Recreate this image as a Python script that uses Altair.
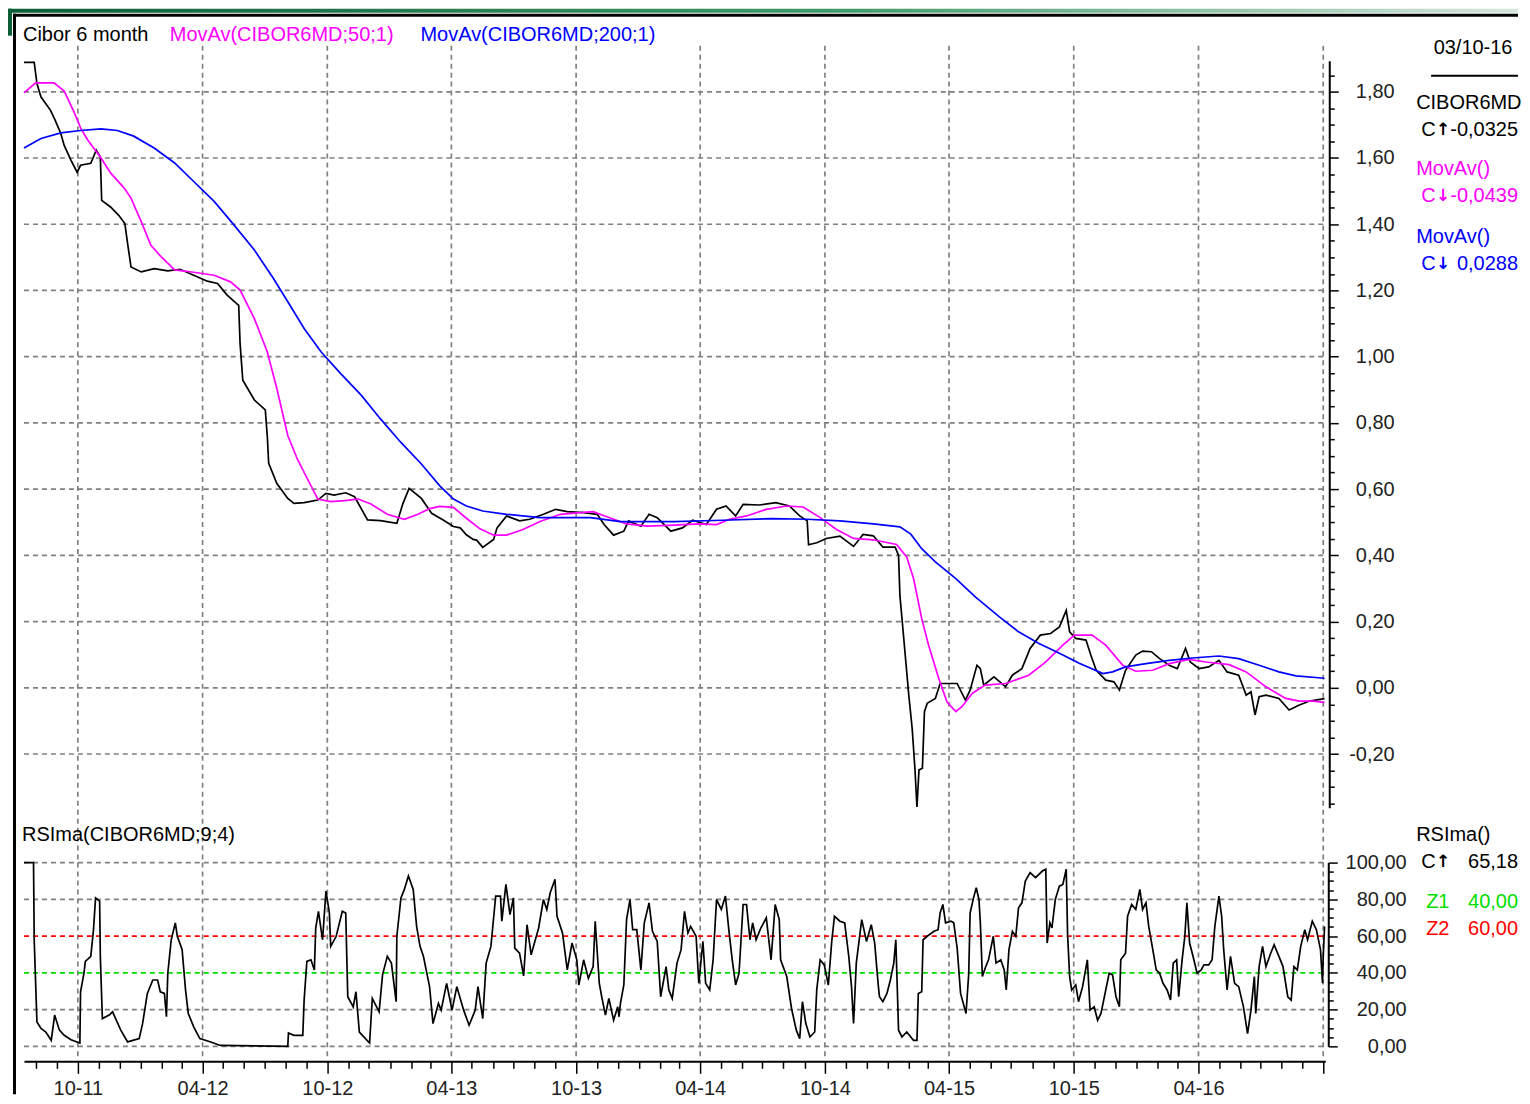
import altair as alt
import pandas as pd

# ---------------- data ----------------
cibor = [
    ("2011-07-14", 1.889), ("2011-07-29", 1.889), ("2011-08-02", 1.825), ("2011-08-08", 1.784),
    ("2011-08-22", 1.744), ("2011-08-29", 1.713), ("2011-09-06", 1.674), ("2011-09-11", 1.638),
    ("2011-09-21", 1.593), ("2011-09-30", 1.557), ("2011-10-05", 1.578), ("2011-10-20", 1.584),
    ("2011-10-28", 1.624), ("2011-11-03", 1.603), ("2011-11-05", 1.472), ("2011-11-18", 1.452),
    ("2011-11-30", 1.427), ("2011-12-09", 1.402), ("2011-12-13", 1.342), ("2011-12-18", 1.271),
    ("2012-01-02", 1.256), ("2012-01-21", 1.266), ("2012-02-10", 1.259), ("2012-02-28", 1.264),
    ("2012-03-19", 1.246), ("2012-04-08", 1.228), ("2012-04-23", 1.221), ("2012-05-07", 1.186),
    ("2012-05-24", 1.155), ("2012-05-26", 1.040), ("2012-05-30", 0.929), ("2012-06-16", 0.869),
    ("2012-07-02", 0.839), ("2012-07-05", 0.758), ("2012-07-07", 0.678), ("2012-07-19", 0.617),
    ("2012-08-04", 0.572), ("2012-08-13", 0.557), ("2012-08-28", 0.559), ("2012-09-17", 0.567),
    ("2012-09-29", 0.587), ("2012-10-11", 0.582), ("2012-10-28", 0.589), ("2012-11-10", 0.577),
    ("2012-11-29", 0.507), ("2012-12-18", 0.505), ("2013-01-11", 0.497), ("2013-01-20", 0.557),
    ("2013-01-29", 0.602), ("2013-02-16", 0.572), ("2013-03-03", 0.527), ("2013-03-20", 0.507),
    ("2013-04-04", 0.487), ("2013-04-14", 0.483), ("2013-04-23", 0.462), ("2013-05-03", 0.448),
    ("2013-05-08", 0.446), ("2013-05-17", 0.424), ("2013-06-02", 0.448), ("2013-06-07", 0.483),
    ("2013-06-21", 0.519), ("2013-07-10", 0.504), ("2013-07-25", 0.509), ("2013-08-14", 0.524),
    ("2013-09-01", 0.539), ("2013-09-18", 0.532), ("2013-10-12", 0.529), ("2013-11-01", 0.524),
    ("2013-11-11", 0.493), ("2013-11-25", 0.461), ("2013-12-10", 0.473), ("2013-12-17", 0.504),
    ("2014-01-04", 0.488), ("2014-01-16", 0.524), ("2014-01-28", 0.514), ("2014-02-17", 0.473),
    ("2014-03-06", 0.483), ("2014-03-21", 0.506), ("2014-04-10", 0.493), ("2014-04-25", 0.539),
    ("2014-05-09", 0.549), ("2014-05-23", 0.519), ("2014-06-03", 0.554), ("2014-06-27", 0.552),
    ("2014-07-21", 0.559), ("2014-08-10", 0.549), ("2014-08-25", 0.519), ("2014-09-05", 0.504),
    ("2014-09-07", 0.432), ("2014-09-19", 0.438), ("2014-10-03", 0.451), ("2014-10-23", 0.458),
    ("2014-11-12", 0.427), ("2014-11-26", 0.463), ("2014-12-11", 0.459), ("2014-12-25", 0.425),
    ("2015-01-12", 0.425), ("2015-01-17", 0.400), ("2015-01-19", 0.279), ("2015-01-24", 0.164),
    ("2015-02-01", -0.022), ("2015-02-06", -0.123), ("2015-02-10", -0.243), ("2015-02-13", -0.360),
    ("2015-02-16", -0.248), ("2015-02-21", -0.243), ("2015-02-24", -0.072), ("2015-02-28", -0.047),
    ("2015-03-12", -0.032), ("2015-03-19", 0.013), ("2015-04-01", 0.013), ("2015-04-13", 0.013),
    ("2015-04-25", -0.037), ("2015-05-02", -0.007), ("2015-05-12", 0.068), ("2015-05-17", 0.058),
    ("2015-05-22", 0.008), ("2015-06-06", 0.033), ("2015-06-23", 0.003), ("2015-07-03", 0.038),
    ("2015-07-17", 0.058), ("2015-07-29", 0.119), ("2015-08-13", 0.159), ("2015-08-28", 0.164),
    ("2015-09-10", 0.184), ("2015-09-20", 0.234), ("2015-09-25", 0.169), ("2015-10-04", 0.149),
    ("2015-10-19", 0.144), ("2015-10-26", 0.099), ("2015-11-03", 0.053), ("2015-11-17", 0.023),
    ("2015-11-29", 0.018), ("2015-12-07", -0.007), ("2015-12-16", 0.053), ("2015-12-31", 0.099),
    ("2016-01-10", 0.111), ("2016-01-23", 0.109), ("2016-02-04", 0.088), ("2016-02-18", 0.068),
    ("2016-03-01", 0.058), ("2016-03-13", 0.119), ("2016-03-20", 0.078), ("2016-04-02", 0.058),
    ("2016-04-16", 0.063), ("2016-05-01", 0.083), ("2016-05-13", 0.048), ("2016-05-30", 0.038),
    ("2016-06-10", -0.022), ("2016-06-17", -0.012), ("2016-06-23", -0.082), ("2016-06-29", -0.027),
    ("2016-07-09", -0.022), ("2016-07-28", -0.032), ("2016-08-12", -0.067), ("2016-08-27", -0.052),
    ("2016-09-11", -0.040), ("2016-10-03", -0.0325),
]

movav50 = [
    ("2011-07-14", 1.797), ("2011-07-31", 1.827), ("2011-08-27", 1.827), ("2011-09-11", 1.802),
    ("2011-09-25", 1.741), ("2011-10-05", 1.691), ("2011-10-15", 1.656), ("2011-11-04", 1.600),
    ("2011-11-18", 1.555), ("2011-12-08", 1.509), ("2011-12-18", 1.479), ("2012-01-02", 1.408),
    ("2012-01-16", 1.337), ("2012-01-31", 1.302), ("2012-02-20", 1.262), ("2012-03-19", 1.255),
    ("2012-04-18", 1.246), ("2012-05-12", 1.226), ("2012-05-26", 1.201), ("2012-06-16", 1.115),
    ("2012-07-05", 1.014), ("2012-07-19", 0.903), ("2012-08-04", 0.762), ("2012-08-18", 0.691),
    ("2012-09-02", 0.630), ("2012-09-17", 0.570), ("2012-10-06", 0.562), ("2012-10-26", 0.565),
    ("2012-11-15", 0.570), ("2012-12-04", 0.555), ("2012-12-28", 0.524), ("2013-01-22", 0.509),
    ("2013-02-11", 0.524), ("2013-02-28", 0.541), ("2013-03-15", 0.548), ("2013-04-04", 0.545),
    ("2013-04-23", 0.512), ("2013-05-13", 0.480), ("2013-06-02", 0.461), ("2013-06-21", 0.461),
    ("2013-07-15", 0.478), ("2013-08-09", 0.502), ("2013-09-08", 0.524), ("2013-10-07", 0.529),
    ("2013-10-26", 0.532), ("2013-11-16", 0.516), ("2013-12-14", 0.495), ("2014-01-13", 0.488),
    ("2014-02-22", 0.491), ("2014-03-30", 0.495), ("2014-04-25", 0.493), ("2014-05-14", 0.509),
    ("2014-06-08", 0.519), ("2014-07-07", 0.539), ("2014-08-06", 0.549), ("2014-08-30", 0.546),
    ("2014-09-24", 0.514), ("2014-10-18", 0.478), ("2014-11-12", 0.451), ("2014-12-11", 0.447),
    ("2015-01-14", 0.433), ("2015-01-29", 0.395), ("2015-02-08", 0.330), ("2015-02-20", 0.209),
    ("2015-03-02", 0.129), ("2015-03-17", 0.028), ("2015-03-29", -0.042), ("2015-04-11", -0.072),
    ("2015-04-20", -0.057), ("2015-05-05", -0.017), ("2015-05-24", 0.008), ("2015-06-23", 0.013),
    ("2015-07-27", 0.038), ("2015-08-21", 0.078), ("2015-09-15", 0.129), ("2015-10-02", 0.159),
    ("2015-10-28", 0.159), ("2015-11-17", 0.129), ("2015-12-12", 0.068), ("2015-12-31", 0.050),
    ("2016-01-25", 0.053), ("2016-02-18", 0.073), ("2016-03-18", 0.086), ("2016-04-12", 0.078),
    ("2016-05-16", 0.070), ("2016-06-10", 0.048), ("2016-07-09", 0.003), ("2016-08-07", -0.032),
    ("2016-08-27", -0.040), ("2016-09-16", -0.040), ("2016-10-03", -0.0439),
]

movav200 = [
    ("2011-07-14", 1.630), ("2011-08-08", 1.659), ("2011-09-06", 1.676), ("2011-10-05", 1.683),
    ("2011-11-04", 1.688), ("2011-11-28", 1.683), ("2011-12-22", 1.666), ("2012-01-21", 1.630),
    ("2012-02-20", 1.585), ("2012-03-19", 1.529), ("2012-04-18", 1.469), ("2012-05-17", 1.398),
    ("2012-06-16", 1.322), ("2012-07-14", 1.236), ("2012-08-04", 1.166), ("2012-08-28", 1.085),
    ("2012-09-22", 1.014), ("2012-10-21", 0.948), ("2012-11-20", 0.883), ("2012-12-18", 0.812),
    ("2013-01-17", 0.741), ("2013-02-16", 0.676), ("2013-03-15", 0.610), ("2013-04-04", 0.570),
    ("2013-04-23", 0.549), ("2013-05-17", 0.534), ("2013-06-21", 0.524), ("2013-08-09", 0.514),
    ("2013-09-27", 0.514), ("2013-10-22", 0.514), ("2013-12-05", 0.502), ("2014-02-22", 0.502),
    ("2014-05-04", 0.506), ("2014-07-16", 0.511), ("2014-09-05", 0.509), ("2014-10-23", 0.504),
    ("2014-12-11", 0.495), ("2015-01-19", 0.486), ("2015-02-04", 0.464), ("2015-02-20", 0.420),
    ("2015-03-12", 0.380), ("2015-04-11", 0.330), ("2015-05-10", 0.274), ("2015-06-14", 0.214),
    ("2015-07-12", 0.169), ("2015-08-11", 0.134), ("2015-09-10", 0.104), ("2015-10-09", 0.074),
    ("2015-11-13", 0.043), ("2015-11-27", 0.048), ("2015-12-16", 0.063), ("2016-01-15", 0.073),
    ("2016-02-18", 0.083), ("2016-03-23", 0.090), ("2016-05-01", 0.096), ("2016-05-30", 0.088),
    ("2016-06-29", 0.068), ("2016-07-28", 0.048), ("2016-08-22", 0.036), ("2016-10-03", 0.0288),
]

rsima = [
    ("2011-07-14", 100), ("2011-07-28", 100), ("2011-07-29", 58), ("2011-08-02", 13.3), ("2011-08-08", 9.7),
    ("2011-08-15", 7.8), ("2011-08-23", 3.3), ("2011-08-28", 17), ("2011-09-04", 8.8), ("2011-09-11", 6),
    ("2011-09-21", 3.6), ("2011-10-04", 1.8), ("2011-10-05", 29.7), ("2011-10-10", 39.8), ("2011-10-12", 46.2),
    ("2011-10-20", 49), ("2011-10-24", 63.5), ("2011-10-27", 80.8), ("2011-11-02", 79), ("2011-11-03", 49),
    ("2011-11-06", 15.1), ("2011-11-16", 17), ("2011-11-21", 18.8), ("2011-12-03", 8.8), ("2011-12-13", 2.4),
    ("2011-12-30", 4.2), ("2012-01-04", 12.4), ("2012-01-11", 28.8), ("2012-01-19", 36.1), ("2012-01-26", 36.1),
    ("2012-01-30", 29.7), ("2012-02-05", 28.8), ("2012-02-08", 16.1), ("2012-02-10", 39.8), ("2012-02-15", 58),
    ("2012-02-21", 67.2), ("2012-02-24", 59.9), ("2012-03-02", 52.6), ("2012-03-07", 30.7), ("2012-03-11", 17.9),
    ("2012-03-19", 10.6), ("2012-03-28", 4.2), ("2012-04-13", 2.4), ("2012-04-27", 0.5), ("2012-08-04", 0),
    ("2012-08-05", 7.3), ("2012-08-13", 6), ("2012-08-26", 6), ("2012-08-28", 25.2), ("2012-09-01", 46.2),
    ("2012-09-07", 47.1), ("2012-09-12", 41.6), ("2012-09-14", 64.4), ("2012-09-18", 73.5), ("2012-09-24", 58),
    ("2012-09-29", 84.5), ("2012-10-04", 72.6), ("2012-10-06", 54.4), ("2012-10-14", 59.9), ("2012-10-23", 73.5),
    ("2012-10-28", 72.6), ("2012-10-31", 27), ("2012-11-08", 21.5), ("2012-11-12", 29.7), ("2012-11-17", 7.8),
    ("2012-12-02", 1.8), ("2012-12-06", 26.1), ("2012-12-16", 18.8), ("2012-12-21", 38.9), ("2012-12-28", 49),
    ("2013-01-03", 45.3), ("2013-01-10", 24.3), ("2013-01-11", 59.9), ("2013-01-17", 80.8), ("2013-01-22", 85.4),
    ("2013-01-28", 92.7), ("2013-02-04", 85.4), ("2013-02-09", 65.3), ("2013-02-14", 54.4), ("2013-02-19", 49),
    ("2013-02-23", 41.6), ("2013-02-28", 32.5), ("2013-03-05", 12.4), ("2013-03-13", 23.4), ("2013-03-17", 19.7),
    ("2013-03-25", 34.3), ("2013-04-02", 19.7), ("2013-04-09", 32.5), ("2013-04-19", 19.7), ("2013-04-27", 11.5),
    ("2013-05-06", 19.7), ("2013-05-10", 32.5), ("2013-05-17", 15.1), ("2013-05-22", 45.3), ("2013-05-29", 54.4),
    ("2013-06-05", 81.8), ("2013-06-12", 81.8), ("2013-06-14", 68.1), ("2013-06-20", 88.1), ("2013-06-26", 71.7),
    ("2013-07-01", 80.8), ("2013-07-03", 53.5), ("2013-07-10", 50.7), ("2013-07-16", 38.3), ("2013-07-21", 66.2),
    ("2013-07-27", 49.8), ("2013-08-07", 64.4), ("2013-08-14", 79.9), ("2013-08-19", 74.5), ("2013-08-24", 83.6),
    ("2013-08-31", 90.9), ("2013-09-03", 70.8), ("2013-09-11", 61.7), ("2013-09-18", 41.6), ("2013-09-25", 56.2),
    ("2013-10-02", 47.1), ("2013-10-05", 33.4), ("2013-10-12", 47.1), ("2013-10-19", 37), ("2013-10-26", 43.4),
    ("2013-10-29", 68.1), ("2013-11-04", 34.3), ("2013-11-08", 26.1), ("2013-11-13", 17), ("2013-11-18", 26.1),
    ("2013-11-25", 14.2), ("2013-12-01", 21.5), ("2013-12-03", 16.1), ("2013-12-05", 23.4), ("2013-12-10", 33.4),
    ("2013-12-14", 69), ("2013-12-19", 79.9), ("2013-12-23", 63.5), ("2013-12-29", 63.5), ("2014-01-04", 41.6),
    ("2014-01-09", 67.2), ("2014-01-16", 78.1), ("2014-01-21", 62.6), ("2014-01-28", 57.1), ("2014-02-02", 27),
    ("2014-02-10", 43.4), ("2014-02-14", 30.7), ("2014-02-19", 26.1), ("2014-02-26", 45.3), ("2014-03-04", 52.6),
    ("2014-03-09", 73.5), ("2014-03-14", 61.7), ("2014-03-18", 65.3), ("2014-03-26", 59.9), ("2014-03-30", 34.3),
    ("2014-04-05", 57.1), ("2014-04-09", 34.3), ("2014-04-15", 30.7), ("2014-04-20", 47.1), ("2014-04-25", 79.9),
    ("2014-05-02", 74.5), ("2014-05-08", 81.8), ("2014-05-13", 63.5), ("2014-05-18", 47.1), ("2014-05-23", 33.4),
    ("2014-05-28", 39.8), ("2014-06-03", 77.2), ("2014-06-08", 77.2), ("2014-06-13", 58), ("2014-06-17", 67.2),
    ("2014-06-22", 58), ("2014-06-29", 64.4), ("2014-07-07", 69.9), ("2014-07-14", 47.1), ("2014-07-20", 77.2),
    ("2014-07-26", 69), ("2014-07-28", 47.1), ("2014-08-06", 38), ("2014-08-13", 20.6), ("2014-08-20", 8.8),
    ("2014-08-25", 4.2), ("2014-08-29", 24.3), ("2014-09-03", 12.4), ("2014-09-09", 5.1), ("2014-09-16", 7.8),
    ("2014-09-19", 30.7), ("2014-09-24", 47.1), ("2014-09-30", 44.3), ("2014-10-06", 33.4), ("2014-10-11", 57.1),
    ("2014-10-15", 70.8), ("2014-10-23", 68.1), ("2014-10-30", 67.2), ("2014-11-05", 48.9), ("2014-11-09", 32.5),
    ("2014-11-12", 12.4), ("2014-11-16", 45.3), ("2014-11-24", 69), ("2014-12-01", 57.1), ("2014-12-08", 66.2),
    ("2014-12-13", 56.2), ("2014-12-18", 34.3), ("2014-12-20", 27), ("2014-12-25", 24.3), ("2014-12-31", 28.8),
    ("2015-01-05", 36.1), ("2015-01-10", 45.3), ("2015-01-13", 58), ("2015-01-17", 8.8), ("2015-01-22", 5.1),
    ("2015-01-29", 7.8), ("2015-02-08", 3.3), ("2015-02-13", 3.3), ("2015-02-15", 28.8), ("2015-02-20", 29.7),
    ("2015-02-22", 58), ("2015-02-28", 59.9), ("2015-03-10", 62.6), ("2015-03-16", 63.5), ("2015-03-19", 72.6),
    ("2015-03-23", 77.2), ("2015-03-27", 67.2), ("2015-04-04", 68.1), ("2015-04-08", 67.2), ("2015-04-13", 53.5),
    ("2015-04-18", 28.8), ("2015-04-26", 17.9), ("2015-04-30", 39.8), ("2015-05-02", 72.6), ("2015-05-07", 80.8),
    ("2015-05-11", 86.3), ("2015-05-15", 79.9), ("2015-05-17", 67.2), ("2015-05-20", 38), ("2015-05-24", 42.5),
    ("2015-05-29", 47.1), ("2015-06-05", 59.9), ("2015-06-09", 45.3), ("2015-06-16", 47.1), ("2015-06-21", 41.6),
    ("2015-06-24", 30.7), ("2015-06-28", 52.6), ("2015-07-03", 62.6), ("2015-07-08", 59.9), ("2015-07-12", 75.4),
    ("2015-07-17", 78.1), ("2015-07-22", 90), ("2015-07-29", 94.5), ("2015-08-06", 91.8), ("2015-08-16", 95.4),
    ("2015-08-21", 96.4), ("2015-08-23", 56.2), ("2015-08-27", 67.2), ("2015-08-30", 64.4), ("2015-09-04", 79.9),
    ("2015-09-10", 87.2), ("2015-09-15", 88.1), ("2015-09-20", 96.4), ("2015-09-22", 60.8), ("2015-09-25", 38),
    ("2015-09-28", 30.7), ("2015-10-04", 33.4), ("2015-10-08", 24.3), ("2015-10-14", 32.5), ("2015-10-21", 47.1),
    ("2015-10-25", 19.7), ("2015-10-31", 21.5), ("2015-11-05", 14.2), ("2015-11-10", 17.9), ("2015-11-17", 30.7),
    ("2015-11-22", 39.8), ("2015-11-27", 38.9), ("2015-12-02", 27), ("2015-12-07", 21.5), ("2015-12-09", 47.1),
    ("2015-12-16", 50.7), ("2015-12-19", 70.8), ("2015-12-25", 77.2), ("2015-12-31", 74.5), ("2016-01-06", 85.4),
    ("2016-01-10", 74.5), ("2016-01-15", 78.1), ("2016-01-19", 65.3), ("2016-01-25", 52.6), ("2016-01-30", 41.6),
    ("2016-02-04", 39.8), ("2016-02-09", 34.3), ("2016-02-15", 30.7), ("2016-02-20", 25.2), ("2016-02-24", 45.3),
    ("2016-02-29", 47.1), ("2016-03-03", 27), ("2016-03-08", 47.1), ("2016-03-12", 59.9), ("2016-03-15", 78.1),
    ("2016-03-19", 56.2), ("2016-03-24", 49), ("2016-03-30", 39.8), ("2016-04-05", 41.6), ("2016-04-09", 44.3),
    ("2016-04-16", 44.3), ("2016-04-21", 47.1), ("2016-04-25", 65.3), ("2016-05-01", 81.8), ("2016-05-05", 70.8),
    ("2016-05-08", 52.6), ("2016-05-13", 30.7), ("2016-05-18", 49), ("2016-05-24", 34.3), ("2016-05-30", 32.5),
    ("2016-06-06", 21.5), ("2016-06-12", 6.9), ("2016-06-17", 19.7), ("2016-06-22", 38), ("2016-06-24", 17.9),
    ("2016-06-29", 43.4), ("2016-07-04", 54.4), ("2016-07-09", 43.4), ("2016-07-16", 50.7), ("2016-07-21", 55.3),
    ("2016-07-28", 49), ("2016-08-03", 43.4), ("2016-08-10", 27), ("2016-08-15", 25.2), ("2016-08-19", 43.4),
    ("2016-08-24", 41.6), ("2016-08-29", 54.4), ("2016-09-04", 63.5), ("2016-09-08", 58), ("2016-09-15", 68.1),
    ("2016-09-21", 63.5), ("2016-09-27", 52.6), ("2016-09-30", 34.3), ("2016-10-01", 49), ("2016-10-03", 65.18),
]

price_gridlines = [-0.2, 0.0, 0.2, 0.4, 0.6, 0.8, 1.0, 1.2, 1.4, 1.6, 1.8]
price_ticks = [round(-0.35 + 0.05 * i, 2) for i in range(45)]
rsi_gridlines = [0, 20, 80, 100]
rsi_z1 = [40]
rsi_z2 = [60]
rsi_ticks = list(range(0, 101, 5))
half_year_lines = ["2011-10-01", "2012-04-01", "2012-10-01", "2013-04-01", "2013-10-01", "2014-04-01",
                   "2014-10-01", "2015-04-01", "2015-10-01", "2016-04-01", "2016-10-01"]
month_ticks = [(2011, m) for m in range(8, 13)] + [(y, m) for y in range(2012, 2016) for m in range(1, 13)] \
    + [(2016, m) for m in range(1, 11)]

legend_texts = ["Cibor 6 month", "MovAv(CIBOR6MD;50;1)", "MovAv(CIBOR6MD;200;1)"]
info_date = "03/10-16"
info_names = ["CIBOR6MD", "MovAv()", "MovAv()"]
info_arrows = ["\u2191", "\u2193", "\u2193"]
info_values = ["-0,0325", "-0,0439", " 0,0288"]
rsi_title = "RSIma(CIBOR6MD;9;4)"
info_rsi_name = "RSIma()"
info_rsi_value = "65,18"
zone_names = ["Z1", "Z2"]
zone_values = ["40,00", "60,00"]

# ---------------- layout / style ----------------
W, H1, H2 = 1303, 748, 184
GAP = 55
FONT = "Liberation Sans"
FS = 20
GRID = "#808080"
DASH = [5, 4]
GW = 1.7
BLACK, MAGENTA, BLUE = "#000000", "#ff00ff", "#0000ff"
GREEN, RED = "#00dd00", "#ff0000"
LW = 1.7


def frame(rows):
    return pd.DataFrame(rows, columns=["d", "v"])


df_price, df_50, df_200, df_rsi = frame(cibor), frame(movav50), frame(movav200), frame(rsima)
df_vgrid = pd.DataFrame({"d": half_year_lines})
one = pd.DataFrame({"k": [0]})

x_scale = alt.Scale(type="utc", domain=[alt.DateTime(year=2011, month=7, date=14, utc=True),
                                        alt.DateTime(year=2016, month=10, date=4, utc=True)])

major_price = "abs(datum.value*5 - round(datum.value*5)) < 0.001"
price_axis = alt.Axis(
    orient="right", values=price_ticks, offset=4, title=None, grid=False,
    domainColor=BLACK, domainWidth=2, tickColor=BLACK, tickWidth=1.5,
    tickSize={"condition": {"test": major_price, "value": 9}, "value": 5},
    labelExpr=f"{major_price} ? replace(replace(format(datum.value, '.2f'), '.', ','), '\u2212', '-') : ''",
    labelAlign="right", labelPadding=56, labelFont=FONT, labelFontSize=FS, labelColor="#222",
    labelOverlap=False, labelFlush=False, labelBound=False,
)
rsi_axis = alt.Axis(
    orient="right", values=rsi_ticks, offset=3, title=None, grid=False,
    domainColor=BLACK, domainWidth=2, tickColor=BLACK, tickWidth=1.5,
    tickSize={"condition": {"test": "datum.value % 20 == 0", "value": 9}, "value": 5},
    labelExpr="datum.value % 20 == 0 ? replace(format(datum.value, '.2f'), '.', ',') : ''",
    labelAlign="right", labelPadding=69, labelFont=FONT, labelFontSize=FS, labelColor="#222",
    labelOverlap=False, labelFlush=False, labelBound=False,
)
major_month = "(utcmonth(datum.value) == 3 || utcmonth(datum.value) == 9)"
x_axis = alt.Axis(
    values=[alt.DateTime(year=y, month=m, date=1, utc=True) for y, m in month_ticks],
    offset=15, title=None, grid=False, domainColor=BLACK, domainWidth=2,
    tickColor=BLACK, tickWidth=1.5,
    tickSize={"condition": {"test": major_month, "value": 12}, "value": 7},
    labelExpr=f"{major_month} && (utcyear(datum.value) < 2016 || utcmonth(datum.value) < 6) ? utcFormat(datum.value, '%m-%y') : ''",
    labelPadding=5, labelFont=FONT, labelFontSize=FS, labelColor="#222",
    labelOverlap=False, labelFlush=False, labelBound=False,
)

x_top = alt.X("d:T", scale=x_scale, axis=None)
x_bot = alt.X("d:T", scale=x_scale, axis=x_axis)
y_price = alt.Y("v:Q", scale=alt.Scale(domain=[-0.362, 1.894], nice=False, zero=False), axis=price_axis)
y_rsi = alt.Y("v:Q", scale=alt.Scale(domain=[0, 100], nice=False, zero=False), axis=rsi_axis)


def text(s, x, y, color=BLACK, align="left", font=FONT, size=FS, weight="normal"):
    return alt.Chart(one).mark_text(text=s, align=align, baseline="middle", font=font, fontWeight=weight,
                                    fontSize=size, color=color).encode(x=alt.value(x), y=alt.value(y))


def change_row(arrow, value, y, color):
    return [
        text("C", 1399, y, color),
        text(arrow, 1421, y, color, "center", "DejaVu Sans", 17, "bold"),
        text(value, 1496, y, color, "right"),
    ]


def hline(df, color, y_enc):
    return alt.Chart(df).mark_rule(color=color, strokeDash=DASH, strokeWidth=GW).encode(
        y=y_enc, x=alt.value(0), x2=alt.value(W))


# ---------------- top panel ----------------
green_band = alt.Chart(one).mark_rect(color=alt.Gradient(
    gradient="linear", x1=0, x2=1, y1=0, y2=0,
    stops=[alt.GradientStop(color="#0b5e35", offset=0), alt.GradientStop(color="#3f9a6a", offset=0.55),
           alt.GradientStop(color="#d6e6db", offset=1)])).encode(
    x=alt.value(-16), x2=alt.value(1496), y=alt.value(-52), y2=alt.value(-48))
green_left = alt.Chart(one).mark_rect(color="#0b5e35").encode(
    x=alt.value(-16), x2=alt.value(-12), y=alt.value(-52), y2=alt.value(-25))
frame_top = alt.Chart(one).mark_rule(color=BLACK, strokeWidth=3).encode(
    x=alt.value(-11), x2=alt.value(1496), y=alt.value(-45.5))
frame_left = alt.Chart(one).mark_rule(color=BLACK, strokeWidth=3).encode(
    x=alt.value(-9.5), y=alt.value(-47), y2=alt.value(H1 + GAP + H2 + 48))
underline = alt.Chart(one).mark_rule(color=BLACK, strokeWidth=2).encode(
    x=alt.value(1409), x2=alt.value(1496), y=alt.value(15))

vgrid_top = alt.Chart(df_vgrid).mark_rule(color=GRID, strokeDash=DASH, strokeWidth=GW).encode(
    x=x_top, y=alt.value(-15), y2=alt.value(H1 + GAP))
hgrid_top = hline(pd.DataFrame({"v": price_gridlines}), GRID, y_price)

line_price = alt.Chart(df_price).mark_line(color=BLACK, strokeWidth=LW).encode(x=x_top, y=y_price)
line_50 = alt.Chart(df_50).mark_line(color=MAGENTA, strokeWidth=LW).encode(x=x_top, y=y_price)
line_200 = alt.Chart(df_200).mark_line(color=BLUE, strokeWidth=LW).encode(x=x_top, y=y_price)

top = alt.layer(
    green_band, green_left, frame_top, frame_left,
    vgrid_top, hgrid_top, line_price, line_50, line_200,
    text(legend_texts[0], -1, -26, BLACK),
    text(legend_texts[1], 146, -26, MAGENTA),
    text(legend_texts[2], 397, -26, BLUE),
    text(info_date, 1451, -13, BLACK, "center"), underline,
    text(info_names[0], 1394, 42, BLACK),
    *change_row(info_arrows[0], info_values[0], 69, BLACK),
    text(info_names[1], 1394, 109, MAGENTA),
    *change_row(info_arrows[1], info_values[1], 136, MAGENTA),
    text(info_names[2], 1394, 177, BLUE),
    *change_row(info_arrows[2], info_values[2], 204, BLUE),
).properties(width=W, height=H1)

# ---------------- RSI panel ----------------
vgrid_bot = alt.Chart(df_vgrid).mark_rule(color=GRID, strokeDash=DASH, strokeWidth=GW).encode(
    x=x_bot, y=alt.value(0), y2=alt.value(H2 + 13))
hgrid_bot = hline(pd.DataFrame({"v": rsi_gridlines}), GRID, y_rsi)
z1_line = hline(pd.DataFrame({"v": rsi_z1}), GREEN, y_rsi)
z2_line = hline(pd.DataFrame({"v": rsi_z2}), RED, y_rsi)
line_rsi = alt.Chart(df_rsi).mark_line(color=BLACK, strokeWidth=LW).encode(x=x_bot, y=y_rsi)

bottom = alt.layer(
    vgrid_bot, hgrid_bot, z1_line, z2_line, line_rsi,
    text(rsi_title, -2, -28, BLACK),
    text(info_rsi_name, 1394, -28, BLACK),
    *change_row("\u2191", info_rsi_value, -1, BLACK),
    text(zone_names[0], 1404, 39, GREEN),
    text(zone_values[0], 1496, 39, GREEN, "right"),
    text(zone_names[1], 1404, 67, RED),
    text(zone_values[1], 1496, 67, RED, "right"),
).properties(width=W, height=H2)

chart = alt.vconcat(top, bottom, spacing=GAP, bounds="flush").properties(
    padding={"left": 0, "top": 0, "right": 0, "bottom": 0}
).configure(font=FONT, background="white").configure_view(strokeWidth=0, stroke=None)

chart.save("out.html", embed_options={"renderer": "svg", "actions": False})
